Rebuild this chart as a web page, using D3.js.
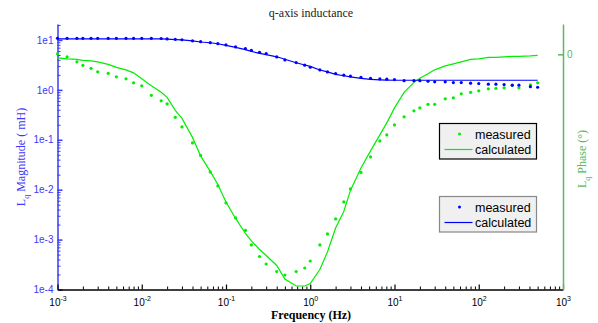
<!DOCTYPE html>
<html>
<head>
<meta charset="utf-8">
<script src="https://cdn.jsdelivr.net/npm/d3@7"></script>
<style>
  body { margin: 0; background: #fff; }
  svg { display: block; }
</style>
</head>
<body>
<div id="chart"></div>
<script>
// frequencies (Hz) shared by all series
var freq = [0.001, 0.0013, 0.0017, 0.002, 0.0025, 0.003, 0.004, 0.005, 0.0065, 0.008,
  0.01, 0.013, 0.017, 0.02, 0.025, 0.03, 0.04, 0.05, 0.065, 0.08,
  0.1, 0.13, 0.17, 0.2, 0.25, 0.3, 0.4, 0.5, 0.68, 0.86,
  1, 1.3, 1.6, 2, 2.5, 3, 4, 5.2, 6.7, 8.1,
  10, 13, 17, 20, 25, 30, 40, 50, 62, 80,
  100, 130, 160, 200, 250, 300, 410, 500];

// Lq magnitude (mH)
var magMeasured = [10.8, 10.8, 10.8, 10.8, 10.8, 10.8, 10.8, 10.8, 10.8, 10.8,
  10.8, 10.8, 10.7, 10.5, 10.3, 10.1, 9.6, 9.25, 8.83, 8.43,
  7.94, 7.24, 6.7, 6.22, 5.68, 5.32, 4.57, 3.98, 3.52, 3.12,
  2.84, 2.51, 2.29, 2.12, 1.97, 1.88, 1.79, 1.71, 1.66, 1.64,
  1.61, 1.53, 1.53, 1.53, 1.49, 1.45, 1.45, 1.4, 1.4, 1.36,
  1.34, 1.3, 1.3, 1.28, 1.24, 1.24, 1.16, 1.13];
var magCalculated = [10.5, 10.5, 10.5, 10.5, 10.5, 10.5, 10.5, 10.5, 10.5, 10.5,
  10.5, 10.5, 10.5, 10.4, 10.2, 10.0, 9.6, 9.1, 8.8, 8.4,
  7.8, 7.1, 6.4, 5.9, 5.4, 5.1, 4.6, 4.1, 3.5, 3.15,
  2.95, 2.5, 2.3, 2.05, 1.92, 1.82, 1.7, 1.63, 1.59, 1.57,
  1.56, 1.56, 1.56, 1.56, 1.56, 1.56, 1.56, 1.56, 1.56, 1.56,
  1.56, 1.56, 1.56, 1.56, 1.56, 1.56, 1.56, 1.56];

// Lq phase (deg)
var phaseMeasured = [0.1, -0.5, -1.5, -2.2, -2.8, -3.5, -3.8, -4.5, -4.9, -5.7,
  -6.3, -8.2, -9.3, -9.9, -12.6, -14.5, -17.7, -20.2, -23.5, -26.3,
  -29.7, -32.7, -35.2, -38.1, -40.4, -41.9, -43.4, -44.1, -43.4, -42.7,
  -41.3, -38.1, -35.9, -32.9, -29.5, -26.9, -23.6, -20.5, -17.3, -16.1,
  -14.1, -12.5, -11.3, -10.7, -10.0, -10.0, -8.9, -8.7, -7.9, -7.6,
  -7.3, -6.9, -6.8, -6.7, -6.2, -6.7, -6.1, -5.7];
var phaseCalculated = [-0.7, -0.9, -1.0, -1.2, -1.3, -1.5, -2.0, -2.6, -3.1, -3.7,
  -4.9, -6.3, -7.6, -8.6, -11.2, -12.8, -16.6, -20.3, -23.4, -26.0,
  -29.5, -32.8, -35.8, -37.3, -39.0, -40.2, -42.2, -44.9, -46.3, -46.3,
  -45.8, -43.0, -39.5, -34.7, -31.4, -27.2, -22.7, -19.3, -16.1, -13.7,
  -10.7, -7.6, -5.6, -4.8, -3.9, -3.1, -2.3, -1.9, -1.5, -1.0,
  -0.9, -0.6, -0.6, -0.5, -0.4, -0.4, -0.3, -0.2];

var xDecades = [-3, -2, -1, 0, 1, 2, 3];
var yDecades = [1, 0, -1, -2, -3, -4];
var legendLabels = ['measured', 'calculated'];

var W = 598, H = 323;
var BLUE = '#0000ff', GREEN = '#00ee00', AXIS_BLUE = '#3b3bf5', AXIS_GREEN = '#5cb85c';
var sans = '"Liberation Sans", Arial, sans-serif';
var serif = '"Liberation Serif", "Times New Roman", serif';

var svg = d3.select('#chart').append('svg').attr('width', W).attr('height', H);

var x = d3.scaleLog().domain([1e-3, 1e3]).range([57.5, 563]);
var y = d3.scaleLog().domain([1e-4, Math.pow(10, 1.32)]).range([289.5, 24]);
var yPhase = d3.scaleLinear().domain([-47, 6.06]).range([289.5, 24]);

function minors(lo, hi) {
  var out = [];
  for (var e = lo; e < hi; e++) {
    for (var k = 2; k <= 9; k++) out.push(k * Math.pow(10, e));
  }
  return out;
}

/*******************
 * AXES
 *******************/

// left (magnitude) axis
var yMinor = minors(-4, 2).filter(function (v) { return v <= y.domain()[1]; });
svg.append('g').attr('transform', 'translate(57.5,0)')
  .call(d3.axisLeft(y).tickValues(yMinor).tickFormat('').tickSize(-3))
  .call(function (g) { g.select('.domain').remove(); })
  .selectAll('line').attr('stroke', AXIS_BLUE);

svg.append('g').attr('transform', 'translate(57.5,0)')
  .call(d3.axisLeft(y)
    .tickValues(yDecades.map(function (d) { return Math.pow(10, d); }))
    .tickFormat(function (d) { return '1e' + Math.round(Math.log10(d)); })
    .tickSizeInner(-5).tickSizeOuter(0).tickPadding(4))
  .call(function (g) {
    g.select('.domain').attr('stroke', AXIS_BLUE).attr('stroke-width', 1.5);
    g.selectAll('line').attr('stroke', AXIS_BLUE).attr('stroke-width', 1.5);
    g.selectAll('text').attr('fill', AXIS_BLUE)
      .style('font', '10px ' + sans);
  });

// bottom (frequency) axis
svg.append('g').attr('transform', 'translate(0,289.5)')
  .call(d3.axisBottom(x).tickValues(minors(-3, 3)).tickFormat('').tickSize(-3))
  .call(function (g) { g.select('.domain').remove(); })
  .selectAll('line').attr('stroke', '#000');

var xAxis = svg.append('g').attr('transform', 'translate(0,289.5)')
  .call(d3.axisBottom(x)
    .tickValues(xDecades.map(function (d) { return Math.pow(10, d); }))
    .tickFormat('')
    .tickSizeInner(-5).tickSizeOuter(0))
  .call(function (g) {
    g.select('.domain').attr('stroke', '#000').attr('stroke-width', 1.5);
    g.selectAll('line').attr('stroke', '#000').attr('stroke-width', 1.2);
  });

xAxis.selectAll('.tick').append('text')
  .attr('y', 16).attr('fill', '#000')
  .style('font', '10px ' + sans)
  .attr('text-anchor', 'middle')
  .each(function (d) {
    var t = d3.select(this);
    t.append('tspan').text('10');
    t.append('tspan').attr('dy', -5).style('font-size', '7px')
      .text(Math.round(Math.log10(d)));
  });

// right (phase) axis
svg.append('g').attr('transform', 'translate(563,0)')
  .call(d3.axisRight(yPhase).tickValues([0]).tickFormat(d3.format('d'))
    .tickSizeInner(-5).tickSizeOuter(0).tickPadding(4))
  .call(function (g) {
    g.select('.domain').attr('stroke', AXIS_GREEN).attr('stroke-width', 1.5);
    g.selectAll('line').attr('stroke', AXIS_GREEN).attr('stroke-width', 1.5);
    g.selectAll('text').attr('fill', AXIS_GREEN)
      .style('font', '10px ' + sans);
  });

/*******************
 * DATA
 *******************/

var magLine = d3.line()
  .x(function (d, i) { return x(freq[i]); })
  .y(function (d) { return y(d); });
var phaseLine = d3.line()
  .x(function (d, i) { return x(freq[i]); })
  .y(function (d) { return yPhase(d); });

svg.append('path').datum(phaseCalculated)
  .attr('d', phaseLine).attr('fill', 'none').attr('stroke', GREEN).attr('stroke-width', 1.2);
svg.append('path').datum(magCalculated)
  .attr('d', magLine).attr('fill', 'none').attr('stroke', BLUE).attr('stroke-width', 1.2);

svg.append('g').selectAll('circle').data(phaseMeasured).join('circle')
  .attr('cx', function (d, i) { return x(freq[i]); })
  .attr('cy', function (d) { return yPhase(d); })
  .attr('r', 1.6).attr('fill', GREEN);

svg.append('g').selectAll('circle').data(magMeasured).join('circle')
  .attr('cx', function (d, i) { return x(freq[i]); })
  .attr('cy', function (d) { return y(d); })
  .attr('r', 1.6).attr('fill', BLUE);

/*******************
 * LEGENDS
 *******************/

function legend(top, color, border) {
  var g = svg.append('g').attr('transform', 'translate(439.5,' + top + ')');
  g.append('rect').attr('width', 97).attr('height', 35.5)
    .attr('fill', '#f0f0f0').attr('stroke', border).attr('stroke-width', 1.2);
  g.append('circle').attr('cx', 20).attr('cy', 10.5).attr('r', 1.5).attr('fill', color);
  g.append('line').attr('x1', 5).attr('x2', 33).attr('y1', 26).attr('y2', 26)
    .attr('stroke', color).attr('stroke-width', 1.2);
  g.selectAll('text').data(legendLabels).join('text')
    .attr('x', 35.5).attr('y', function (d, i) { return 15 + i * 15.5; })
    .style('font', '12.5px ' + sans)
    .attr('fill', '#000')
    .text(function (d) { return d; });
}
legend(123.5, GREEN, '#000');
legend(196.5, BLUE, '#888');

/*******************
 * TITLES
 *******************/

svg.append('text').attr('x', 311).attr('y', 17).attr('text-anchor', 'middle')
  .style('font', '12px ' + serif).attr('fill', '#222').text('q-axis inductance');

svg.append('text').attr('x', 311).attr('y', 319).attr('text-anchor', 'middle')
  .style('font', 'bold 12px ' + serif).attr('fill', '#000').text('Frequency (Hz)');

var yl = svg.append('text').attr('transform', 'translate(25,157) rotate(-90)')
  .attr('text-anchor', 'middle').style('font', '12px ' + serif).attr('fill', AXIS_BLUE);
yl.append('tspan').text('L');
yl.append('tspan').attr('dy', 4).style('font-size', '8px').text('q');
yl.append('tspan').attr('dy', -4).text(' Magnitude ( mH)');

var pl = svg.append('text').attr('transform', 'translate(586,159) rotate(-90)')
  .attr('text-anchor', 'middle').style('font', '12px ' + serif).attr('fill', AXIS_GREEN);
pl.append('tspan').text('L');
pl.append('tspan').attr('dy', 4).style('font-size', '8px').text('q');
pl.append('tspan').attr('dy', -4).text(' Phase (°)');
</script>
</body>
</html>
